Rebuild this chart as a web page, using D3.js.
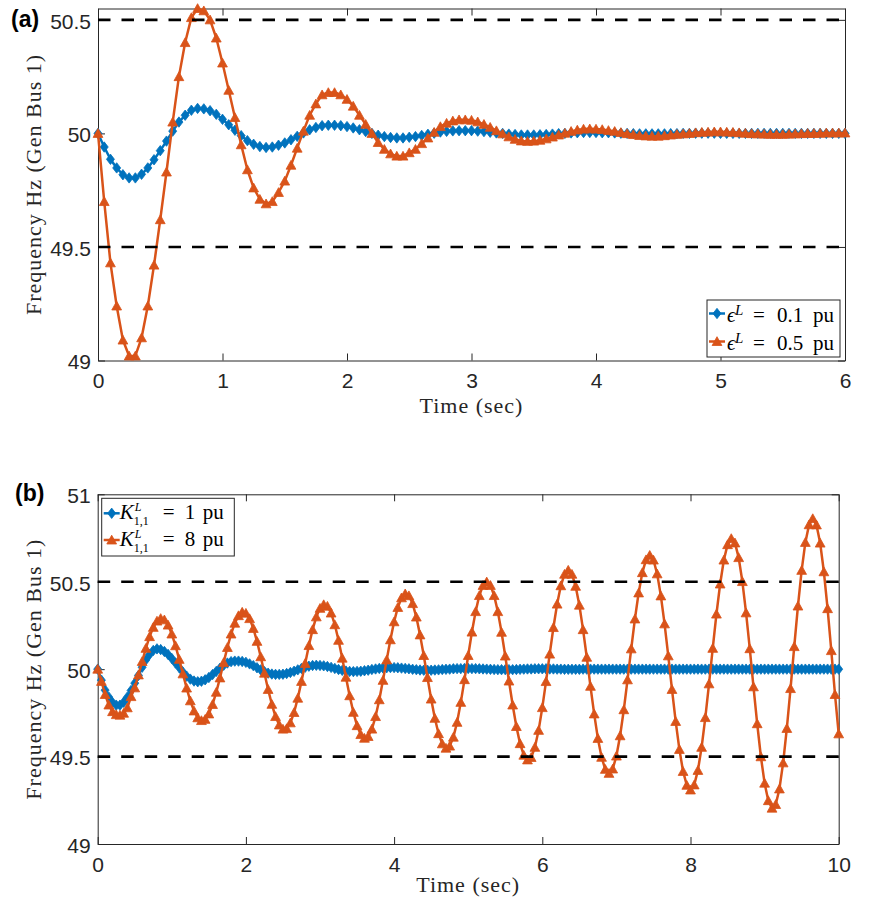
<!DOCTYPE html>
<html>
<head>
<meta charset="utf-8">
<script src="https://cdn.jsdelivr.net/npm/d3@7"></script>
<style>
  body { margin: 0; background: #fff; }
  svg { display: block; }
</style>
</head>
<body>
<svg id="chart" width="877" height="905"></svg>
<script>
// Sampling interval of the simulated traces (s)
const STEP = 0.05;

// Axis ticks
const ticksA_x = [0, 1, 2, 3, 4, 5, 6];
const ticksA_y = [49, 49.5, 50, 50.5];
const ticksB_x = [0, 2, 4, 6, 8, 10];
const ticksB_y = [49, 49.5, 50, 50.5, 51];

// Frequency limits shown as dashed lines (Hz)
const limitLines = [49.5, 50.5];

// Panel (a): frequency at Gen Bus 1, eps^L = 0.1 pu (t = 0 .. 6 s)
const freqA_eps01 = [
  50.000, 49.940, 49.886, 49.848, 49.818, 49.804, 49.804, 49.820, 49.848, 49.884,
  49.924, 49.966, 50.010, 50.050, 50.080, 50.102, 50.110, 50.108, 50.100, 50.084,
  50.062, 50.038, 50.014, 49.990, 49.968, 49.952, 49.942, 49.938, 49.940, 49.948,
  49.958, 49.972, 49.987, 50.002, 50.016, 50.026, 50.034, 50.036, 50.036, 50.034,
  50.030, 50.024, 50.016, 50.008, 50.000, 49.992, 49.986, 49.982, 49.980, 49.980,
  49.983, 49.986, 49.991, 49.996, 50.001, 50.006, 50.009, 50.011, 50.012, 50.012,
  50.012, 50.010, 50.008, 50.005, 50.002, 50.000, 49.997, 49.995, 49.993, 49.993,
  49.993, 49.994, 49.995, 49.997, 49.999, 50.000, 50.002, 50.003, 50.004, 50.004,
  50.004, 50.003, 50.003, 50.002, 50.001, 50.000, 49.999, 49.998, 49.998, 49.998,
  49.998, 49.998, 49.999, 49.999, 50.000, 50.000, 50.001, 50.001, 50.001, 50.001,
  50.000, 50.000, 50.000, 50.000, 50.000, 50.000, 50.000, 50.000, 50.000, 50.000,
  50.000, 50.000, 50.000, 50.000, 50.000, 50.000, 50.000, 50.000, 50.000, 50.000,
  50.000
];

// Panel (a): eps^L = 0.5 pu
const freqA_eps05 = [
  50.000, 49.700, 49.430, 49.240, 49.090, 49.020, 49.020, 49.100, 49.240, 49.420,
  49.620, 49.830, 50.050, 50.250, 50.400, 50.510, 50.550, 50.540, 50.500, 50.420,
  50.310, 50.190, 50.070, 49.950, 49.840, 49.760, 49.710, 49.690, 49.700, 49.740,
  49.790, 49.860, 49.935, 50.010, 50.080, 50.130, 50.170, 50.180, 50.180, 50.170,
  50.150, 50.120, 50.080, 50.040, 50.000, 49.960, 49.930, 49.910, 49.900, 49.900,
  49.915, 49.930, 49.955, 49.980, 50.005, 50.030, 50.045, 50.055, 50.060, 50.060,
  50.058, 50.051, 50.040, 50.027, 50.012, 49.998, 49.985, 49.974, 49.967, 49.965,
  49.966, 49.970, 49.976, 49.984, 49.993, 50.001, 50.009, 50.015, 50.019, 50.020,
  50.019, 50.017, 50.013, 50.009, 50.004, 49.999, 49.995, 49.991, 49.989, 49.988,
  49.988, 49.990, 49.993, 49.996, 49.998, 50.000, 50.003, 50.005, 50.006, 50.007,
  50.007, 50.006, 50.005, 50.003, 50.001, 49.999, 49.998, 49.997, 49.996, 49.996,
  49.996, 49.997, 49.998, 49.999, 50.000, 50.000, 50.001, 50.002, 50.002, 50.002,
  50.002
];

// Panel (b): K^L_{1,1} = 1 pu (t = 0 .. 10 s)
const freqB_K1 = [
  50.000, 49.937, 49.880, 49.840, 49.809, 49.794, 49.794, 49.811, 49.840, 49.878,
  49.920, 49.964, 50.011, 50.053, 50.084, 50.107, 50.116, 50.112, 50.101, 50.084,
  50.061, 50.035, 50.009, 49.983, 49.960, 49.943, 49.932, 49.928, 49.931, 49.939,
  49.952, 49.969, 49.987, 50.005, 50.022, 50.035, 50.043, 50.046, 50.046, 50.044,
  50.039, 50.030, 50.020, 50.008, 49.996, 49.986, 49.977, 49.972, 49.970, 49.970,
  49.971, 49.975, 49.981, 49.988, 49.996, 50.004, 50.011, 50.017, 50.021, 50.022,
  50.021, 50.019, 50.015, 50.010, 50.004, 49.998, 49.993, 49.989, 49.987, 49.986,
  49.987, 49.988, 49.991, 49.994, 49.998, 50.001, 50.004, 50.007, 50.008, 50.009,
  50.009, 50.008, 50.006, 50.004, 50.002, 49.999, 49.997, 49.995, 49.994, 49.994,
  49.994, 49.995, 49.996, 49.998, 49.999, 50.000, 50.002, 50.003, 50.003, 50.004,
  50.004, 50.003, 50.003, 50.002, 50.001, 50.000, 49.999, 49.998, 49.997, 49.997,
  49.997, 49.997, 49.997, 49.998, 49.999, 50.000, 50.001, 50.001, 50.002, 50.002,
  50.002, 50.002, 50.001, 50.001, 50.000, 50.000, 49.999, 49.999, 49.999, 49.999,
  49.999, 50.000, 50.000, 50.000, 50.000, 50.000, 50.000, 50.000, 50.000, 50.000,
  50.000, 50.000, 50.000, 50.000, 50.000, 50.000, 50.000, 50.000, 50.000, 50.000,
  50.000, 50.000, 50.000, 50.000, 50.000, 50.000, 50.000, 50.000, 50.000, 50.000,
  50.000, 50.000, 50.000, 50.000, 50.000, 50.000, 50.000, 50.000, 50.000, 50.000,
  50.000, 50.000, 50.000, 50.000, 50.000, 50.000, 50.000, 50.000, 50.000, 50.000,
  50.000, 50.000, 50.000, 50.000, 50.000, 50.000, 50.000, 50.000, 50.000, 50.000,
  50.000, 50.000, 50.000, 50.000, 50.000, 50.000, 50.000, 50.000, 50.000, 50.000,
  50.000
];

// Panel (b): K^L_{1,1} = 8 pu
const freqB_K8 = [
  50.000, 49.930, 49.855, 49.795, 49.757, 49.740, 49.737, 49.748, 49.779, 49.843,
  49.893, 49.967, 50.044, 50.119, 50.186, 50.239, 50.275, 50.290, 50.282, 50.252,
  50.201, 50.134, 50.056, 49.973, 49.892, 49.819, 49.761, 49.722, 49.706, 49.713,
  49.744, 49.798, 49.868, 49.950, 50.038, 50.124, 50.201, 50.263, 50.306, 50.326,
  50.320, 50.289, 50.233, 50.159, 50.071, 49.977, 49.884, 49.799, 49.729, 49.681,
  49.657, 49.660, 49.693, 49.752, 49.834, 49.930, 50.033, 50.135, 50.226, 50.299,
  50.348, 50.369, 50.360, 50.321, 50.254, 50.165, 50.063, 49.954, 49.848, 49.753,
  49.677, 49.626, 49.605, 49.615, 49.657, 49.729, 49.825, 49.936, 50.053, 50.168,
  50.271, 50.353, 50.408, 50.431, 50.420, 50.375, 50.298, 50.196, 50.078, 49.952,
  49.829, 49.719, 49.631, 49.573, 49.548, 49.560, 49.611, 49.696, 49.810, 49.940,
  50.078, 50.212, 50.329, 50.421, 50.479, 50.499, 50.479, 50.421, 50.329, 50.211,
  50.075, 49.932, 49.795, 49.672, 49.574, 49.508, 49.481, 49.495, 49.553, 49.650,
  49.780, 49.929, 50.086, 50.238, 50.372, 50.477, 50.543, 50.566, 50.543, 50.474,
  50.366, 50.226, 50.068, 49.902, 49.744, 49.604, 49.496, 49.427, 49.404, 49.429,
  49.503, 49.619, 49.768, 49.939, 50.116, 50.287, 50.436, 50.552, 50.626, 50.651,
  50.624, 50.545, 50.419, 50.259, 50.076, 49.884, 49.701, 49.541, 49.415, 49.336,
  49.309, 49.338, 49.421, 49.553, 49.723, 49.916, 50.119, 50.315, 50.487, 50.624,
  50.712, 50.747, 50.722, 50.638, 50.501, 50.322, 50.117, 49.899, 49.688, 49.499,
  49.348, 49.248, 49.205, 49.226, 49.315, 49.464, 49.661, 49.889, 50.129, 50.361,
  50.565, 50.725, 50.826, 50.861, 50.825, 50.721, 50.557, 50.346, 50.106, 49.855,
  49.630
];

const BLUE = "#0072BD";
const ORANGE = "#D95319";
const AXIS = "#262626";
const SANS = "'Liberation Sans', Arial, Helvetica, sans-serif";
const SERIF = "'Liberation Serif', 'Times New Roman', serif";

// Marker outlines (centred on the data point)
const DIAMOND = "M0,-5.2L4,0L0,5.2L-4,0Z";
const TRIANGLE = "M0,-4.8L4.9,4L-4.9,4Z";

const svg = d3.select("#chart");
svg.append("rect").attr("width", 877).attr("height", 905).attr("fill", "#fff");

function styleAxis(sel, withLabels) {
  sel.attr("font-size", null).attr("font-family", null);
  sel.selectAll("path.domain").attr("stroke", AXIS).attr("stroke-width", 1);
  sel.selectAll(".tick line").attr("stroke", AXIS).attr("stroke-width", 1);
  sel.selectAll(".tick text")
    .attr("font-family", SANS)
    .attr("font-size", 21)
    .attr("fill", AXIS);
  if (!withLabels) sel.selectAll(".tick text").remove();
}

function drawPanel(cfg) {
  const { x, y, series } = cfg;
  const g = svg.append("g");
  const [x0, x1] = x.range();
  const [yb, yt] = y.range();

  // Axes box with inward ticks on all four sides
  g.append("g").attr("transform", `translate(0,${yb})`)
    .call(d3.axisBottom(x).tickValues(cfg.xticks).tickSize(-7).tickSizeOuter(0)
      .tickPadding(13).tickFormat(d => String(d)))
    .call(s => styleAxis(s, true));
  g.append("g").attr("transform", `translate(0,${yt})`)
    .call(d3.axisTop(x).tickValues(cfg.xticks).tickSize(-7).tickSizeOuter(0))
    .call(s => styleAxis(s, false));
  g.append("g").attr("transform", `translate(${x0},0)`)
    .call(d3.axisLeft(y).tickValues(cfg.yticks).tickSize(-7).tickSizeOuter(0)
      .tickPadding(7).tickFormat(d => String(d)))
    .call(s => styleAxis(s, true))
    .call(s => s.selectAll(".tick text").attr("dy", "0.40em"));
  g.append("g").attr("transform", `translate(${x1},0)`)
    .call(d3.axisRight(y).tickValues(cfg.yticks).tickSize(-7).tickSizeOuter(0))
    .call(s => styleAxis(s, false));

  // Traces
  const line = d3.line().x(d => x(d[0])).y(d => y(d[1]));
  series.forEach(s => {
    const pts = s.values.map((v, i) => [i * STEP, v]);
    g.append("path").datum(pts)
      .attr("d", line)
      .attr("fill", "none")
      .attr("stroke", s.color)
      .attr("stroke-width", 2.5)
      .attr("stroke-linejoin", "round");
    g.append("g").selectAll("path").data(pts).join("path")
      .attr("transform", d => `translate(${x(d[0])},${y(d[1])})`)
      .attr("d", s.marker)
      .attr("fill", s.color)
      .attr("stroke", s.color)
      .attr("stroke-width", 0.8)
      .attr("stroke-linejoin", "round");
  });

  // Frequency limit lines
  g.selectAll("line.limit").data(limitLines).join("line")
    .attr("class", "limit")
    .attr("x1", x0).attr("x2", x1)
    .attr("y1", d => y(d)).attr("y2", d => y(d))
    .attr("stroke", "#000")
    .attr("stroke-width", 2.6)
    .attr("stroke-dasharray", "12.5,11");

  // Axis titles
  g.append("text")
    .attr("x", (x0 + x1) / 2).attr("y", yb + cfg.xlabelOffset)
    .attr("text-anchor", "middle")
    .attr("font-family", SERIF).attr("font-size", 22)
    .attr("letter-spacing", 1)
    .attr("fill", AXIS)
    .text("Time (sec)");
  g.append("text")
    .attr("transform", `translate(41,${(yb + yt) / 2}) rotate(-90)`)
    .attr("text-anchor", "middle")
    .attr("font-family", SERIF).attr("font-size", 22)
    .attr("letter-spacing", 1)
    .attr("fill", AXIS)
    .text("Frequency Hz (Gen Bus 1)");

  // Panel tag
  g.append("text")
    .attr("x", cfg.tagX).attr("y", cfg.tagY)
    .attr("font-family", SANS).attr("font-weight", "bold").attr("font-size", 23)
    .attr("fill", "#000")
    .text(cfg.tag);

  return g;
}

// Legend with math-style labels: one text per entry, pieces placed as tspans
function drawLegend(g, box, rows) {
  const lg = g.append("g");
  lg.append("rect")
    .attr("x", box.x).attr("y", box.y).attr("width", box.w).attr("height", box.h)
    .attr("fill", "#fff").attr("stroke", AXIS).attr("stroke-width", 1);
  rows.forEach(r => {
    lg.append("line")
      .attr("x1", box.x + 2).attr("x2", box.x + 18)
      .attr("y1", r.yc).attr("y2", r.yc)
      .attr("stroke", r.color).attr("stroke-width", 2.5);
    lg.append("path")
      .attr("transform", `translate(${box.x + 10},${r.yc})`)
      .attr("d", r.marker).attr("fill", r.color)
      .attr("stroke", r.color).attr("stroke-width", 0.8);
    const txt = lg.append("text")
      .attr("font-family", SERIF)
      .attr("font-size", 21)
      .attr("fill", "#000");
    r.parts.forEach(p => {
      txt.append("tspan")
        .attr("x", box.x + p.dx)
        .attr("y", r.yc + r.base + (p.dy || 0))
        .attr("font-size", p.size || 21)
        .attr("font-style", p.italic ? "italic" : "normal")
        .text(p.t);
    });
  });
}

// Panel (a)
const xA = d3.scaleLinear().domain([0, 6]).range([98, 845]);
const yA = d3.scaleLinear().domain([49, 50.55]).range([360.5, 8.5]);
const gA = drawPanel({
  x: xA, y: yA, xticks: ticksA_x, yticks: ticksA_y, xlabelOffset: 52,
  tag: "(a)", tagX: 11, tagY: 27,
  series: [
    { values: freqA_eps01, color: BLUE, marker: DIAMOND },
    { values: freqA_eps05, color: ORANGE, marker: TRIANGLE }
  ]
});
drawLegend(gA, { x: 707, y: 300, w: 133, h: 57 }, [
  { yc: 313.5, base: 8, color: BLUE, marker: DIAMOND, parts: [
    { t: "\u03F5", dx: 20, italic: true },
    { t: "L", dx: 28, dy: -7, size: 15, italic: true },
    { t: "=", dx: 46 },
    { t: "0.1", dx: 70 },
    { t: "pu", dx: 106 }
  ]},
  { yc: 341.5, base: 8, color: ORANGE, marker: TRIANGLE, parts: [
    { t: "\u03F5", dx: 20, italic: true },
    { t: "L", dx: 28, dy: -7, size: 15, italic: true },
    { t: "=", dx: 46 },
    { t: "0.5", dx: 70 },
    { t: "pu", dx: 106 }
  ]}
]);

// Panel (b)
const xB = d3.scaleLinear().domain([0, 10]).range([97.7, 838.7]);
const yB = d3.scaleLinear().domain([49, 51]).range([844, 494.3]);
const gB = drawPanel({
  x: xB, y: yB, xticks: ticksB_x, yticks: ticksB_y, xlabelOffset: 48,
  tag: "(b)", tagX: 15, tagY: 501,
  series: [
    { values: freqB_K1, color: BLUE, marker: DIAMOND },
    { values: freqB_K8, color: ORANGE, marker: TRIANGLE }
  ]
});
drawLegend(gB, { x: 101.7, y: 498.3, w: 132.6, h: 57.7 }, [
  { yc: 513.3, base: 6, color: BLUE, marker: DIAMOND, parts: [
    { t: "K", dx: 18, italic: true },
    { t: "L", dx: 33, dy: -8, size: 12, italic: true },
    { t: "1,1", dx: 32, dy: 5.6, size: 12 },
    { t: "=", dx: 61 },
    { t: "1", dx: 83 },
    { t: "pu", dx: 101 }
  ]},
  { yc: 540, base: 6, color: ORANGE, marker: TRIANGLE, parts: [
    { t: "K", dx: 18, italic: true },
    { t: "L", dx: 33, dy: -8, size: 12, italic: true },
    { t: "1,1", dx: 32, dy: 5.6, size: 12 },
    { t: "=", dx: 61 },
    { t: "8", dx: 83 },
    { t: "pu", dx: 101 }
  ]}
]);
</script>
</body>
</html>
